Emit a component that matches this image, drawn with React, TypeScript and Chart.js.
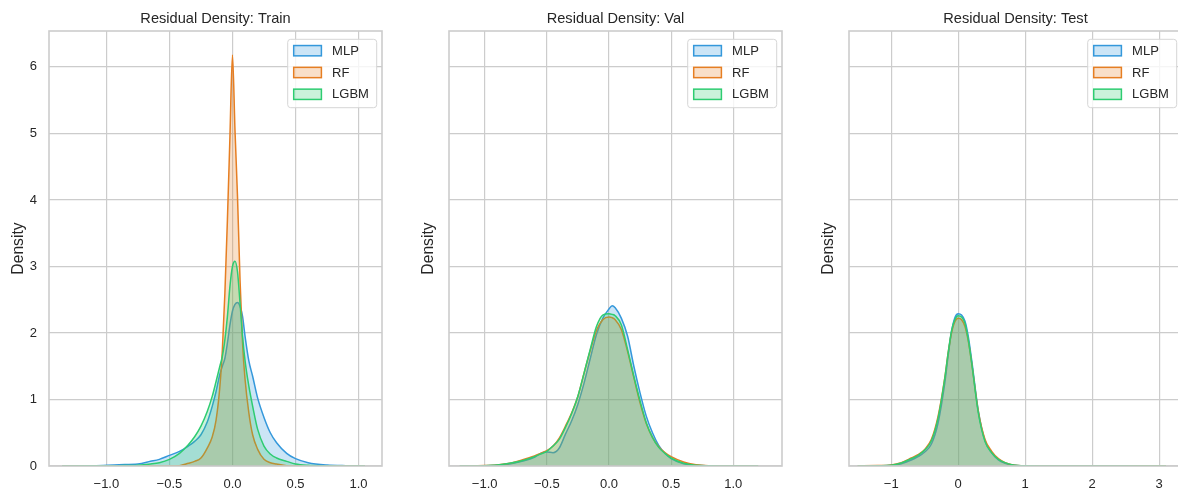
import { useEffect, useRef } from 'react';
import { Chart, registerables } from 'chart.js';

Chart.register(...registerables);

// ---- series -------------------------------------------------------------
const MODELS = ['MLP', 'RF', 'LGBM'];
const LINE_COLORS = ['#3498db', '#e67e22', '#2ecc71'];
const FILL_COLORS = ['rgba(52,152,219,0.25)', 'rgba(230,126,34,0.25)', 'rgba(46,204,113,0.25)'];

// Train residual densities
const TRAIN_X = [-1.35, -1.1, -0.9, -0.75, -0.65, -0.58, -0.5, -0.42, -0.35, -0.3, -0.25, -0.2, -0.16, -0.13, -0.1, -0.08, -0.06, -0.04, -0.02, 0, 0.02, 0.04, 0.06, 0.08, 0.1, 0.13, 0.16, 0.2, 0.25, 0.3, 0.35, 0.43, 0.5, 0.6, 0.75, 0.9, 1.05];
const TRAIN_MLP = [0, 0.005, 0.02, 0.03, 0.07, 0.1, 0.16, 0.22, 0.3, 0.37, 0.47, 0.66, 0.9, 1.12, 1.38, 1.5, 1.62, 1.85, 2.12, 2.33, 2.43, 2.46, 2.4, 2.25, 1.95, 1.58, 1.35, 1.02, 0.73, 0.5, 0.35, 0.19, 0.11, 0.05, 0.015, 0.005, 0.002];
const TRAIN_RF = [0, 0, 0, 0, 0, 0, 0, 0.005, 0.04, 0.07, 0.12, 0.27, 0.44, 0.69, 1.19, 1.75, 2.6, 3.7, 4.95, 6.18, 5.05, 4.05, 2.8, 1.85, 1.3, 0.8, 0.47, 0.25, 0.1, 0.05, 0.03, 0.003, 0, 0, 0, 0, 0];
const TRAIN_LGBM = [0, 0.002, 0.005, 0.012, 0.03, 0.05, 0.1, 0.19, 0.32, 0.44, 0.6, 0.82, 1.05, 1.27, 1.5, 1.65, 1.9, 2.25, 2.7, 3.0, 3.08, 2.92, 2.45, 1.95, 1.58, 1.2, 0.9, 0.55, 0.3, 0.18, 0.12, 0.07, 0.03, 0.01, 0.003, 0.001, 0];

// Validation residual densities
const VAL_X = [-1.2, -1.0, -0.9, -0.8, -0.7, -0.6, -0.55, -0.5, -0.45, -0.4, -0.35, -0.3, -0.25, -0.2, -0.15, -0.1, -0.05, 0, 0.025, 0.05, 0.1, 0.15, 0.2, 0.25, 0.3, 0.35, 0.4, 0.45, 0.5, 0.6, 0.7, 0.8, 1.0, 1.2];
const VAL_MLP = [0, 0.005, 0.012, 0.03, 0.07, 0.13, 0.19, 0.21, 0.2, 0.27, 0.48, 0.68, 0.93, 1.25, 1.62, 1.98, 2.22, 2.36, 2.41, 2.38, 2.22, 1.95, 1.5, 1.1, 0.75, 0.5, 0.31, 0.19, 0.11, 0.035, 0.01, 0.003, 0, 0];
const VAL_RF = [0, 0.006, 0.016, 0.04, 0.09, 0.15, 0.19, 0.23, 0.3, 0.42, 0.6, 0.8, 1.05, 1.4, 1.74, 2.04, 2.2, 2.24, 2.23, 2.2, 2.05, 1.72, 1.33, 0.95, 0.64, 0.43, 0.29, 0.2, 0.14, 0.06, 0.02, 0.005, 0, 0];
const VAL_LGBM = [0, 0.005, 0.015, 0.04, 0.08, 0.14, 0.18, 0.22, 0.3, 0.4, 0.58, 0.79, 1.05, 1.4, 1.76, 2.1, 2.27, 2.29, 2.28, 2.26, 2.12, 1.75, 1.35, 0.98, 0.65, 0.43, 0.28, 0.19, 0.12, 0.04, 0.01, 0.003, 0, 0];

// Test residual densities
const TEST_X = [-1.5, -1.2, -1.0, -0.85, -0.7, -0.6, -0.5, -0.4, -0.3, -0.2, -0.15, -0.1, -0.05, 0, 0.05, 0.1, 0.15, 0.2, 0.3, 0.4, 0.5, 0.6, 0.7, 0.8, 1.0, 1.5, 2.0, 2.5, 3.0, 3.1];
const TEST_MLP = [0, 0.002, 0.01, 0.035, 0.09, 0.14, 0.21, 0.33, 0.65, 1.25, 1.66, 2.02, 2.23, 2.29, 2.27, 2.18, 1.95, 1.6, 0.83, 0.38, 0.2, 0.09, 0.04, 0.015, 0.003, 0, 0, 0, 0, 0];
const TEST_RF = [0.004, 0.006, 0.015, 0.05, 0.12, 0.17, 0.25, 0.4, 0.75, 1.33, 1.7, 2.0, 2.17, 2.22, 2.2, 2.1, 1.88, 1.55, 0.82, 0.4, 0.22, 0.11, 0.05, 0.02, 0.004, 0.001, 0.001, 0.001, 0.003, 0.002];
const TEST_LGBM = [0, 0.003, 0.012, 0.045, 0.11, 0.16, 0.24, 0.38, 0.72, 1.32, 1.7, 2.03, 2.2, 2.26, 2.24, 2.15, 1.9, 1.56, 0.8, 0.37, 0.2, 0.1, 0.05, 0.02, 0.004, 0, 0, 0, 0, 0];

// ---- axes ---------------------------------------------------------------
const Y_TICKS = [0, 1, 2, 3, 4, 5, 6];
const Y_MAX = 6.54;
const HALF_TICKS = [-1, -0.5, 0, 0.5, 1];
const UNIT_TICKS = [-1, 0, 1, 2, 3];

const FONT = '"Liberation Sans", Arial, Helvetica, sans-serif';
const TEXT = '#262626';
const GRID = '#cccccc';

const fmtTick = (digits: number) => (v: number | string) => {
  const n = Number(v);
  const s = Math.abs(n).toFixed(digits);
  return n < 0 ? '\u2212' + s : s;
};

type PanelSpec = {
  title: string;
  xs: number[];
  series: number[][];
  xMin: number;
  xMax: number;
  xTicks: number[];
  digits: number;
  showYTicks: boolean;
  left: number;
  yLabelGap: number;
};

const PANELS: PanelSpec[] = [
  { title: 'Residual Density: Train', xs: TRAIN_X, series: [TRAIN_MLP, TRAIN_RF, TRAIN_LGBM], xMin: -1.455, xMax: 1.186, xTicks: HALF_TICKS, digits: 1, showYTicks: true, left: 0, yLabelGap: 26 },
  { title: 'Residual Density: Val', xs: VAL_X, series: [VAL_MLP, VAL_RF, VAL_LGBM], xMin: -1.287, xMax: 1.392, xTicks: HALF_TICKS, digits: 1, showYTicks: false, left: 400, yLabelGap: 16 },
  { title: 'Residual Density: Test', xs: TEST_X, series: [TEST_MLP, TEST_RF, TEST_LGBM], xMin: -1.63, xMax: 3.34, xTicks: UNIT_TICKS, digits: 0, showYTicks: false, left: 800, yLabelGap: 16 },
];

const AXIS_W = 49;
const PLOT_W = 333;
const CANVAS_W = AXIS_W + PLOT_W + 4;
const CANVAS_H = 496;

// Frame, legend, title and y label drawn around each chart area
const panelDecor = {
  id: 'panelDecor',
  afterDatasetsDraw(chart: any, _args: any, opts: any) {
    const { ctx, chartArea: a } = chart;
    ctx.save();
    ctx.strokeStyle = GRID;
    ctx.lineWidth = 1.6;
    ctx.strokeRect(a.left, a.top, a.right - a.left, a.bottom - a.top);

    // legend
    const bw = 89;
    const bh = 68.4;
    const bx = a.right - 5.3 - bw;
    const by = a.top + 8.3;
    ctx.beginPath();
    ctx.roundRect(bx, by, bw, bh, 3);
    ctx.fillStyle = 'rgba(255,255,255,0.8)';
    ctx.fill();
    ctx.strokeStyle = '#d6d6d6';
    ctx.lineWidth = 1;
    ctx.stroke();
    chart.data.datasets.forEach((ds: any, i: number) => {
      const cy = by + 11.4 + i * 21.8;
      ctx.fillStyle = FILL_COLORS[i];
      ctx.fillRect(bx + 6, cy - 5.15, 27.7, 10.3);
      ctx.strokeStyle = LINE_COLORS[i];
      ctx.lineWidth = 1.5;
      ctx.strokeRect(bx + 6, cy - 5.15, 27.7, 10.3);
      ctx.fillStyle = TEXT;
      ctx.font = `13px ${FONT}`;
      ctx.textAlign = 'left';
      ctx.textBaseline = 'middle';
      ctx.fillText(ds.label, bx + 44.4, cy + 0.5);
    });

    // title
    ctx.fillStyle = TEXT;
    ctx.font = `14.6px ${FONT}`;
    ctx.textAlign = 'center';
    ctx.textBaseline = 'alphabetic';
    ctx.fillText(opts.title, (a.left + a.right) / 2, a.top - 7.7);

    // y label
    ctx.translate(a.left - opts.yLabelGap, (a.top + a.bottom) / 2);
    ctx.rotate(-Math.PI / 2);
    ctx.font = `15.7px ${FONT}`;
    ctx.fillText('Density', 0, 0);
    ctx.restore();
  },
};

function Panel({ spec }: { spec: PanelSpec }) {
  const ref = useRef<HTMLCanvasElement>(null);

  useEffect(() => {
    const canvas = ref.current;
    if (!canvas) return;
    const chart = new Chart(canvas, {
      type: 'line',
      data: {
        datasets: MODELS.map((m, i) => ({
          label: m,
          data: spec.xs.map((x, j) => ({ x, y: spec.series[i][j] })),
          borderColor: LINE_COLORS[i],
          backgroundColor: FILL_COLORS[i],
          borderWidth: 1.5,
          fill: 'origin',
          pointRadius: 0,
          cubicInterpolationMode: 'monotone',
          // later models are painted over earlier ones
          order: MODELS.length - 1 - i,
        })),
      },
      options: {
        animation: false,
        responsive: false,
        devicePixelRatio: 1,
        events: [],
        layout: { padding: { top: 31, right: 4, left: 0, bottom: 0 } },
        plugins: {
          legend: { display: false },
          title: { display: false },
          tooltip: { enabled: false },
          panelDecor: { title: spec.title, yLabelGap: spec.yLabelGap },
        } as any,
        scales: {
          x: {
            type: 'linear',
            min: spec.xMin,
            max: spec.xMax,
            afterBuildTicks: (s: any) => {
              s.ticks = spec.xTicks.map((v) => ({ value: v }));
            },
            afterFit: (s: any) => {
              s.height = 30;
            },
            grid: { color: GRID, lineWidth: 1.2, drawTicks: false },
            border: { display: false },
            ticks: {
              autoSkip: false,
              maxRotation: 0,
              padding: 11,
              color: TEXT,
              font: { family: FONT, size: 13 },
              callback: fmtTick(spec.digits),
            },
          },
          y: {
            type: 'linear',
            min: 0,
            max: Y_MAX,
            afterBuildTicks: (s: any) => {
              s.ticks = Y_TICKS.map((v) => ({ value: v }));
            },
            afterFit: (s: any) => {
              s.width = AXIS_W;
            },
            grid: { color: GRID, lineWidth: 1.2, drawTicks: false },
            border: { display: false },
            ticks: {
              display: spec.showYTicks,
              autoSkip: false,
              padding: 12,
              color: TEXT,
              font: { family: FONT, size: 13 },
              callback: (v: any) => String(v),
            },
          },
        },
      },
      plugins: [panelDecor],
    } as any);
    return () => chart.destroy();
  }, [spec]);

  return (
    <canvas
      ref={ref}
      width={CANVAS_W}
      height={CANVAS_H}
      style={{ position: 'absolute', left: spec.left, top: 0, width: CANVAS_W, height: CANVAS_H }}
    />
  );
}

export default function App() {
  return (
    <div
      style={{
        position: 'fixed',
        left: 0,
        top: 0,
        width: 1178,
        height: 496,
        overflow: 'hidden',
        background: '#ffffff',
      }}
    >
      {PANELS.map((p) => (
        <Panel key={p.title} spec={p} />
      ))}
    </div>
  );
}
